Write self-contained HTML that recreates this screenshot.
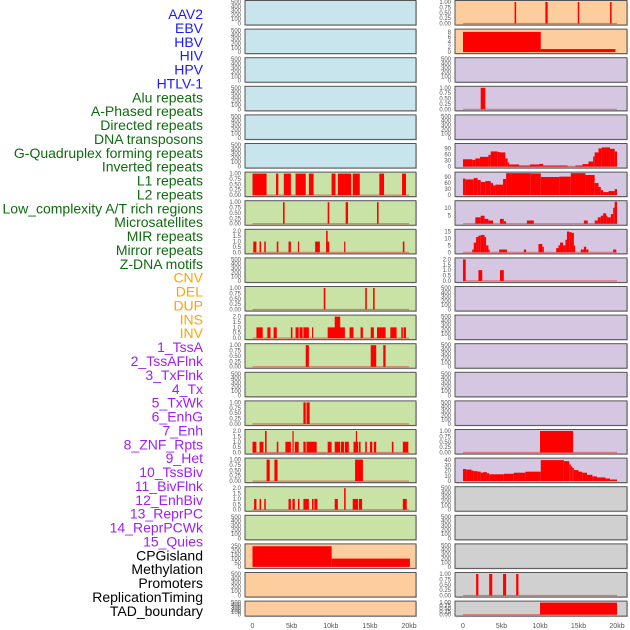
<!DOCTYPE html>
<html><head><meta charset="utf-8">
<style>
html,body{margin:0;padding:0;background:#fff;}
svg{display:block;font-family:"Liberation Sans",sans-serif;}
</style></head>
<body>
<svg id="chart" width="630" height="630" viewBox="0 0 630 630" xmlns="http://www.w3.org/2000/svg"></svg>
<script>
// ---- data ----
const trackLabels = ["AAV2","EBV","HBV","HIV","HPV","HTLV-1","Alu repeats","A-Phased repeats","Directed repeats","DNA transposons","G-Quadruplex forming repeats","Inverted repeats","L1 repeats","L2 repeats","Low_complexity A/T rich regions","Microsatellites","MIR repeats","Mirror repeats","Z-DNA motifs","CNV","DEL","DUP","INS","INV","1_TssA","2_TssAFlnk","3_TxFlnk","4_Tx","5_TxWk","6_EnhG","7_Enh","8_ZNF_Rpts","9_Het","10_TssBiv","11_BivFlnk","12_EnhBiv","13_ReprPC","14_ReprPCWk","15_Quies","CPGisland","Methylation","Promoters","ReplicationTiming","TAD_boundary"];
const labelGroups = [6,13,5,15,5];
const xTickValues = [0,5,10,15,20];
const xTickLabels = ["0","5kb","10kb","15kb","20kb"];

// left column segments [startKb, endKb, value]
const leftRow6 = [[0,1.8,1],[3.0,3.3,1],[4.0,4.9,1],[5.5,6.8,1],[7.2,7.8,1],[10.1,10.6,1],[10.9,12.6,1],[12.8,13.7,1],[16.2,16.8,1],[19.1,19.6,1]];
const leftRow7 = [[3.9,4.1,1],[9.6,9.8,1],[11.9,12.2,1],[15.9,16.1,1]];
const leftRow8 = [[0.1,0.5,1],[0.9,1.1,1],[1.5,1.7,1],[3.1,3.3,1],[4.6,4.9,1],[5.8,5.9,1],[8.0,8.6,1],[9.4,9.8,1],[9.4,9.6,2],[11.7,11.8,1],[19.2,19.4,1]];
const leftRow10 = [[9.1,9.3,1],[14.4,14.6,1],[15.4,15.6,1]];
const leftRow11 = [[0.5,1.3,1],[1.9,2.3,1],[2.7,3.1,1],[4.9,5.1,1],[5.5,5.9,1],[6.0,6.4,1],[6.5,7.2,1],[7.6,7.7,1],[9.6,11.8,1],[10.5,11.2,2],[12.4,12.9,1],[13.8,14.1,1],[15.1,15.5,1],[15.9,17.0,1],[17.6,18.4,1],[19.0,19.2,1],[19.3,19.6,1]];
const leftRow12 = [[6.8,7.2,1],[15.1,15.8,1],[16.7,17.0,1]];
const leftRow14 = [[6.5,6.8,1],[6.9,7.3,1]];
const leftRow15 = [[0,0.5,1],[0.9,1.4,1],[1.6,1.8,2],[3.1,3.3,1],[4.2,4.9,1],[5.4,5.9,1],[5.1,5.25,2],[6.5,6.8,1],[6.9,8.2,1],[9.6,10.1,1],[10.5,11.2,1],[11.3,11.7,1],[11.8,12.3,1],[12.9,13.5,1],[13.2,13.35,2],[13.6,13.8,1],[14.4,14.6,1],[15.0,15.3,1],[15.5,15.8,1],[17.8,18.0,1],[19.2,19.9,1]];
const leftRow16 = [[1.8,2.2,1],[2.8,3.2,1],[13.1,14.1,1]];
const leftRow17 = [[0.2,0.5,1],[0.9,1.1,1],[1.5,1.7,1],[4.6,4.9,1],[5.1,5.4,1],[5.8,6.0,1],[6.5,7.2,1],[7.6,7.8,1],[7.9,8.3,1],[10.5,10.9,1],[11.7,11.9,2],[12.8,13.5,1],[13.6,14.0,1],[19.2,19.7,1]];
const leftRow19 = [[0,10.1,250],[10.1,20.1,100]];

// right column segments
const rightRow0 = [[6.7,6.9,1],[10.7,11.0,1],[14.9,15.1,1],[19.1,19.3,1]];
const rightRow1 = [[0,10.1,8],[10.1,19.8,1.2]];
const rightRow3 = [[2.3,2.9,1]];
const rightRow5 = [[0,1.2,36],[1.2,1.6,33],[1.6,2.2,40],[2.2,3.3,48],[3.3,3.6,58],[3.6,4.5,75],[4.5,4.8,72],[4.8,5.5,70],[5.5,5.8,40],[5.8,6.0,20],[6.0,7.3,10],[7.3,8.7,5],[8.7,9.9,10],[9.9,10.4,13],[10.4,13.6,5],[14.6,15.5,5],[15.5,16.3,12],[16.3,16.9,25],[16.9,17.1,50],[17.1,17.6,70],[17.6,18.0,90],[18.0,19.1,95],[19.1,19.7,88],[19.7,20,75]];
const rightRow6 = [[0,0.3,82],[0.3,1.4,78],[1.4,1.9,85],[1.9,2.3,75],[2.3,2.9,65],[2.9,3.6,70],[3.6,3.9,60],[3.9,4.2,48],[4.2,5.2,52],[5.2,5.6,80],[5.6,8.8,110],[8.8,10.1,108],[10.1,12.5,90],[12.5,14.0,92],[14.0,15.9,110],[15.9,17.1,100],[17.1,17.6,60],[17.6,17.9,40],[17.9,18.2,25],[18.2,18.9,15],[18.9,19.7,20],[19.7,20,30]];
const rightRow7 = [[1.6,2.3,4],[2.3,2.8,5],[2.8,3.3,3],[3.3,3.9,2],[4.8,5.3,3],[5.3,5.6,1.5],[8.3,9.2,2],[15.7,16.2,2],[17.1,17.5,2],[17.5,17.9,4],[17.9,18.2,5],[18.2,18.6,6.5],[18.6,18.7,5],[18.7,19.2,4],[19.2,19.5,6],[19.5,19.7,10],[19.7,20,14]];
const rightRow8 = [[1.2,1.4,2],[1.4,1.7,7],[1.7,2.0,11],[2.0,2.3,12],[2.3,2.8,12.5],[2.8,3.0,11],[3.0,3.3,5],[3.3,3.4,2],[4.7,5.7,2],[7.9,8.2,2],[9.8,10.3,6],[10.3,10.5,4],[12.1,12.4,3],[12.4,12.6,5],[12.6,13.0,7],[13.0,13.3,5],[13.3,13.5,9],[13.5,13.8,15],[13.8,14.1,14.5],[14.1,14.4,14],[14.4,14.5,5],[15.3,15.7,2],[15.7,16.0,4],[16.0,16.3,2],[19.5,19.9,2]];
const rightRow9 = [[0,0.35,2],[2.0,2.5,1],[4.8,5.3,1]];
const rightRow15 = [[10.0,14.3,1]];
const rightRow16 = [[0,0.4,23],[0.4,1.1,22],[1.1,1.4,20],[1.4,1.9,19],[1.9,2.3,18],[2.3,2.6,16],[2.6,3.1,17],[3.1,3.4,15],[3.4,5.3,13],[5.3,6.6,14],[6.6,8.1,16],[8.1,10.1,18],[10.1,13.1,40],[13.1,13.8,38],[13.8,14.0,32],[14.0,14.2,28],[14.2,14.4,25],[14.4,15.0,21],[15.0,15.5,18],[15.5,16.1,16],[16.1,16.8,12],[16.8,17.4,9],[17.4,18.5,7],[18.5,19.1,5],[19.1,20,3]];
const rightRow20 = [[1.7,2.0,1],[3.4,3.8,1],[5.2,5.6,1],[6.9,7.2,1]];
const rightRow21 = [[10.0,20.0,1]];

// tick label sets
const ticksEmpty = ["0","100","200","300","400","500"];
const ticksUnit = ["0.00","0.25","0.50","0.75","1.00"];
const ticksTwo = ["0.0","0.5","1.0","1.5","2.0"];

// ---- rendering ----
const svg = document.getElementById('chart');
const NS = 'http://www.w3.org/2000/svg';
function mk(tag, attrs, parent){
  const e = document.createElementNS(NS, tag);
  for (const k in attrs) e.setAttribute(k, attrs[k]);
  (parent||svg).appendChild(e);
  return e;
}
const labelColors = ['#1a1aff','#0f6b0f','#ffa500','#a020f0','#000000'];
let li = 0;
labelGroups.forEach((n,g)=>{
  for(let k=0;k<n;k++){
    const t = mk('text',{x:203,y:(li*13.88+19).toFixed(1),'text-anchor':'end','font-size':'14',fill:labelColors[g]});
    
    
    t.textContent = trackLabels[li];
    li++;
  }
});

const BG = {blue:'#c8e4ec',green:'#c9e2a5',orange:'#fecd9d',purple:'#d5c6e2',gray:'#d0d0d0'};
const colL = {x0:245,x1:416,kb0:252.5,kbw:7.83};
const colR = {x0:455,x1:627,kb0:463,kbw:7.7};

function panel(col,row,bg,ymax,ticks,segs,base){
  const top = row*28.6+0.5;
  const h = row===21?15:24.5;
  const g = mk('g',{});
  
  
  mk('rect',{x:col.x0+1,y:top+1,width:col.x1-col.x0,height:h,fill:'#999',opacity:0.5},g);
  mk('rect',{x:col.x0,y:top,width:col.x1-col.x0,height:h,fill:bg,stroke:'#555','stroke-width':1},g);
  const y0 = top+h-1.5, yr = h-3;
  const yOf = v=>y0 - Math.min(v/ymax,1.02)*yr;
  const xOf = kb=>col.kb0+kb*col.kbw;
  if(base){
    const b = mk('line',{x1:xOf(0),x2:xOf(20),y1:y0,y2:y0,stroke:'#e04040','stroke-width':1.2,opacity:0.6},g);
    
  }
  (segs||[]).forEach(s=>{
    const x1 = xOf(s[0]), x2 = xOf(s[1]);
    const r = mk('rect',{x:x1.toFixed(2),y:yOf(s[2]).toFixed(2),width:Math.max(x2-x1,1.2).toFixed(2),height:(y0-yOf(s[2])).toFixed(2),fill:'#ff0000'},g);
    
    
  });
  const tv = ticks.vals, tl = ticks.labels;
  tv.forEach((v,i)=>{
    const t = mk('text',{x:col.x0-4,y:(yOf(v)+2).toFixed(1),'text-anchor':'end','font-size':'6',fill:'#555'},g);
    
    
    t.textContent = tl[i];
  });
}
const emptyT = {vals:[0,100,200,300,400,500],labels:ticksEmpty};
const unitT = {vals:[0,0.25,0.5,0.75,1],labels:ticksUnit};
const twoT = {vals:[0,0.5,1,1.5,2],labels:ticksTwo};

// left column
for(let r=0;r<22;r++){
  const bg = r<6?BG.blue:(r<19?BG.green:BG.orange);
  let ymax=500,t=emptyT,segs=null,base=false;
  const m = {6:[1,unitT,leftRow6],7:[1,unitT,leftRow7],8:[2,twoT,leftRow8],10:[1,unitT,leftRow10],11:[2,twoT,leftRow11],12:[1,unitT,leftRow12],14:[1,unitT,leftRow14],15:[2,twoT,leftRow15],16:[1,unitT,leftRow16],17:[2,twoT,leftRow17]};
  if(m[r]){ymax=m[r][0];t=m[r][1];segs=m[r][2];base=true;}
  if(r===19){ymax=260;t={vals:[0,50,100,150,200,250],labels:["0","50","100","150","200","250"]};segs=leftRow19;}
  panel(colL,r,bg,ymax,t,segs,base);
}
// right column
for(let r=0;r<22;r++){
  const bg = r<2?BG.orange:(r<17?BG.purple:BG.gray);
  let ymax=500,t=emptyT,segs=null,base=false;
  const m = {0:[1,unitT,rightRow0],3:[1,unitT,rightRow3],9:[2,twoT,rightRow9],15:[1,unitT,rightRow15],20:[1,unitT,rightRow20],21:[1,unitT,rightRow21]};
  if(m[r]){ymax=m[r][0];t=m[r][1];segs=m[r][2];base=true;}
  if(r===1){ymax=8.5;t={vals:[0,2,4,6,8],labels:["0","2","4","6","8"]};segs=rightRow1;}
  if(r===5){ymax=107;t={vals:[0,30,60,90],labels:["0","30","60","90"]};segs=rightRow5;base=true;}
  if(r===6){ymax=107;t={vals:[0,30,60,90],labels:["0","30","60","90"]};segs=rightRow6;}
  if(r===7){ymax=13.5;t={vals:[5,10],labels:["5","10"]};segs=rightRow7;base=true;}
  if(r===8){ymax=15.5;t={vals:[0,5,10,15],labels:["0","5","10","15"]};segs=rightRow8;base=true;}
  if(r===16){ymax=41;t={vals:[0,10,20,30,40],labels:["0","10","20","30","40"]};segs=rightRow16;}
  panel(colR,r,bg,ymax,t,segs,base);
}
// x axes
[colL,colR].forEach(col=>{
  xTickValues.forEach((v,i)=>{
    const t = mk('text',{x:(col.kb0+v*col.kbw).toFixed(1),y:628,'text-anchor':'middle','font-size':'7',fill:'#555'});
    
    
    t.textContent = xTickLabels[i];
  });
});
</script>
</body></html>
